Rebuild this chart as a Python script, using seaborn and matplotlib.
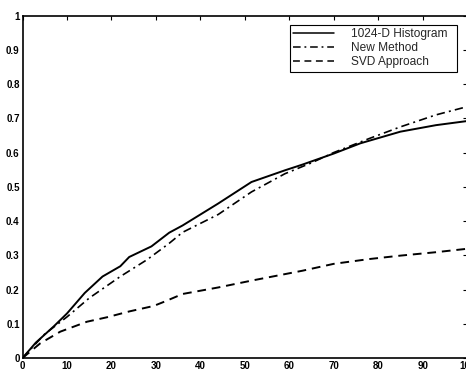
import numpy as np
import matplotlib
matplotlib.use("Agg")
import matplotlib.pyplot as plt
import pandas as pd
import seaborn as sns

# values
hist_x = [0, 3, 7, 10, 14, 18, 22, 24, 29, 33, 36, 44, 51.5, 59, 63, 70, 76, 85, 93, 100]
hist_y = [0, 0.045, 0.092, 0.13, 0.19, 0.238, 0.268, 0.295, 0.326, 0.366, 0.387,
          0.451, 0.514, 0.548, 0.565, 0.597, 0.627, 0.661, 0.68, 0.692]

new_x = [0, 5, 10, 15, 22, 28, 33, 36, 44, 51.5, 59, 65, 70, 78, 85, 93, 100]
new_y = [0, 0.07, 0.12, 0.175, 0.238, 0.287, 0.335, 0.367, 0.419, 0.485, 0.538,
         0.57, 0.6, 0.641, 0.675, 0.71, 0.734]

svd_x = [0, 4, 8.5, 14.5, 19, 24, 29.5, 32, 36, 44, 51.5, 63, 70, 78, 85, 93, 100]
svd_y = [0, 0.043, 0.077, 0.106, 0.119, 0.136, 0.152, 0.165, 0.187, 0.206, 0.226,
         0.255, 0.275, 0.289, 0.299, 0.309, 0.319]

labels = ["1024-D Histogram", "New Method", "SVD Approach"]
x_ticks = [0, 10, 20, 30, 40, 50, 60, 70, 80, 90, 100]
y_ticks = [0, 0.1, 0.2, 0.3, 0.4, 0.5, 0.6, 0.7, 0.8, 0.9, 1]
y_tick_labels = ["0", "0.1", "0.2", "0.3", "0.4", "0.5", "0.6", "0.7", "0.8", "0.9", "1"]

sns.set_style("white")
plt.rcParams['font.family'] = ['Liberation Sans', 'DejaVu Sans']

fig = plt.figure(figsize=(4.66, 3.71), dpi=100)
ax = fig.add_axes([0.0483, 0.035, 0.954, 0.923])

sns.lineplot(x=hist_x, y=hist_y, ax=ax, color="black", linewidth=1.4,
             linestyle="-", label=labels[0])
sns.lineplot(x=new_x, y=new_y, ax=ax, color="black", linewidth=1.2,
             label=labels[1])
ax.lines[-1].set_dashes([5, 2.5, 1.2, 2.5])
sns.lineplot(x=svd_x, y=svd_y, ax=ax, color="black", linewidth=1.4,
             label=labels[2])
ax.lines[-1].set_dashes([4.5, 3])

ax.set_xlim(0, 100)
ax.set_ylim(0, 1)
ax.set_xticks(x_ticks)
ax.set_yticks(y_ticks)
ax.set_yticklabels(y_tick_labels)
ax.tick_params(direction="in", length=3, width=0.8, top=True, right=True,
               labelsize=7, pad=2, colors="black")
for t in ax.get_xticklabels() + ax.get_yticklabels():
    t.set_fontweight("bold")
for s in ax.spines.values():
    s.set_visible(True)
    s.set_color("black")
    s.set_linewidth(1.2)

leg = ax.legend(loc="upper left", bbox_to_anchor=(0.622, 0.809, 0.359, 0.124),
                bbox_transform=fig.transFigure, mode="expand", fontsize=8.6,
                handlelength=3.4, handletextpad=1.4, labelspacing=0.15,
                borderpad=0.3, fancybox=False, framealpha=1, borderaxespad=0)
leg.get_frame().set_edgecolor("black")
leg.get_frame().set_linewidth(0.8)
for line in leg.get_lines():
    line.set_linewidth(1.1)

ax.set_xlabel("")
ax.set_ylabel("")
fig.savefig("out.png", dpi=100)
